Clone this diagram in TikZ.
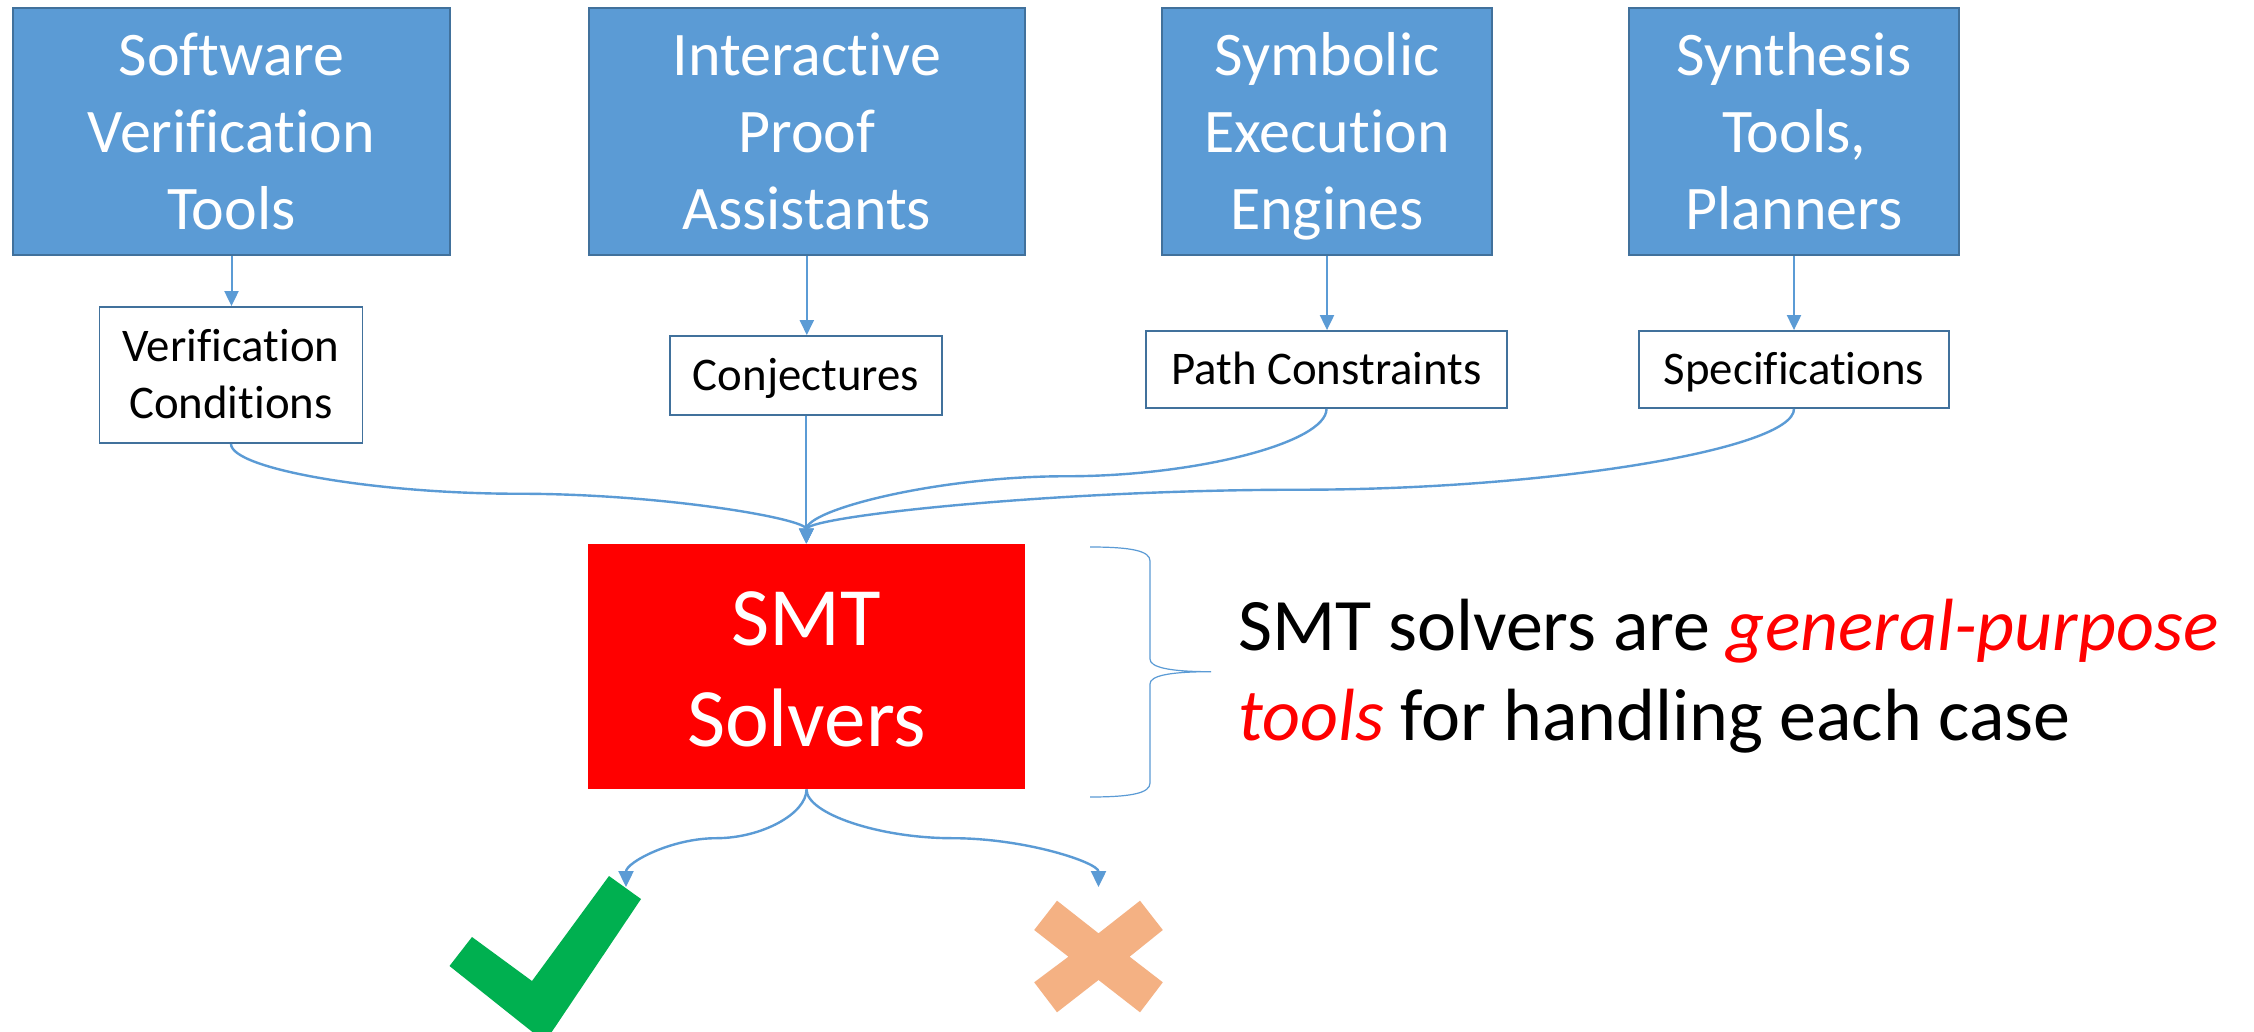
\documentclass[tikz,border=0pt]{standalone}
\usepackage{fontspec}
\setmainfont{Carlito}[Ligatures=NoCommon]
\usetikzlibrary{arrows.meta,calc}
\definecolor{boxblue}{HTML}{5B9BD5}
\definecolor{boxedge}{HTML}{41719C}
\definecolor{connblue}{HTML}{5B9BD5}
\definecolor{smtred}{HTML}{FF0000}
\definecolor{okgreen}{HTML}{00B050}
\definecolor{nopeach}{HTML}{F4B183}
\newcommand\tstrut[1]{\rule{0pt}{#1}}
\newcommand\bstrut[1]{\rule[-#1]{0pt}{#1}}
\tikzset{
  toolbox/.style={rectangle, fill=boxblue, draw=boxedge, line width=0.9pt, text=white,
    align=center, inner sep=0pt, minimum height=123.5pt,
    font=\fontsize{31}{38.5}\selectfont},
  outbox/.style={rectangle, fill=white, draw=boxedge, line width=0.9pt, text=black,
    align=center, inner sep=0pt, font=\fontsize{23.4}{28.3}\selectfont},
  smtbox/.style={rectangle, fill=smtred, draw=none, text=white, align=center, inner sep=0pt,
    minimum width=218.5pt, minimum height=122.5pt, font=\fontsize{41.5}{50.8}\selectfont},
  sidetext/.style={anchor=base west, inner sep=0pt, font=\fontsize{37}{44.5}\selectfont},
  conn/.style={draw=connblue, line width=1pt, -{Triangle[length=7.5pt,width=7pt]}},
  curveconn/.style={conn, line width=1.2pt},
  bracestyle/.style={draw=connblue, line width=0.6pt},
}
% PowerPoint-like curved connector (vertical start, vertical end, horizontal at mid)
\newcommand\pptcurve[4][]{%
  \draw[curveconn,#1] let \p1=(#2), \p2=(#3), \n1={\y1+#4*(\y2-\y1)} in
    (\p1) .. controls (\x1,{0.5*(\y1+\n1*1pt)}) and ({\x1+0.25*(\x2-\x1)},{\n1*1pt})
    .. ({0.5*(\x1+\x2)},{\n1*1pt})
    .. controls ({\x1+0.75*(\x2-\x1)},{\n1*1pt}) and (\x2,{0.5*(\n1*1pt+\y2)}) .. (\p2);
}
\begin{document}
\begin{tikzpicture}[x=0.5pt,y=-0.5pt]
\useasboundingbox (0,0) rectangle (2254,1032);
\fill[white] (0,0) rectangle (2254,1032);

% top tool boxes
\node[toolbox, minimum width=218.5pt] (t1) at (231.5,131.5)
  {\tstrut{29.25pt}Software\\Verification\\Tools\bstrut{7.75pt}};
\node[toolbox, minimum width=218pt] (t2) at (806.8,131.5)
  {\tstrut{29.25pt}Interactive\\Proof\\Assistants\bstrut{7.75pt}};
\node[toolbox, minimum width=165pt] (t3) at (1327,131.5)
  {\tstrut{29.25pt}Symbolic\\Execution\\Engines\bstrut{7.75pt}};
\node[toolbox, minimum width=165pt] (t4) at (1794,131.5)
  {\tstrut{29.25pt}Synthesis\\Tools,\\Planners\bstrut{7.75pt}};

% output boxes
\node[outbox, minimum width=131.5pt, minimum height=68pt] (s1) at (231,375)
  {\tstrut{21pt}Verification\\Conditions\bstrut{6pt}};
\node[outbox, minimum width=136pt, minimum height=39.5pt] (s2) at (806,375.5)
  {\tstrut{20.5pt}Conjectures\bstrut{6pt}};
\node[outbox, minimum width=180.5pt, minimum height=38.5pt] (s3) at (1326.5,369.5)
  {\tstrut{20.5pt}Path Constraints\bstrut{6pt}};
\node[outbox, minimum width=155pt, minimum height=38.5pt] (s4) at (1794,369.5)
  {\tstrut{20.5pt}Specifications\bstrut{6pt}};

% SMT box
\node[smtbox] (smt) at (806.5,666.5) {\tstrut{39.8pt}SMT\\Solvers\bstrut{10.5pt}};

% side text
\node[sidetext] (txa) at (1238,650.7)
  {SMT solvers are {\color{smtred}\itshape general-purpose}};
\node[sidetext] (txb) at (1238,740)
  {{\color{smtred}\itshape tools} for handling each case};

% brace
\draw[bracestyle] (1090,547) .. controls (1132,547) and (1150,551) .. (1150,561)
  -- (1150,659) .. controls (1150,667) and (1168,671.7) .. (1211,671.7)
  .. controls (1168,671.7) and (1150,676) .. (1150,684)
  -- (1150,783) .. controls (1150,793) and (1132,797) .. (1090,797);

% arrows tool -> output
\draw[conn] (t1.south) -- (t1.south |- s1.north);
\draw[conn] (t2.south) -- (t2.south |- s2.north);
\draw[conn] (t3.south) -- (t3.south |- s3.north);
\draw[conn] (t4.south) -- (t4.south |- s4.north);

% output -> SMT
\pptcurve{s1.south}{smt.north}{0.5}
\draw[conn] (s2.south) -- (s2.south |- smt.north);
\pptcurve{s3.south}{smt.north}{0.5}
\pptcurve{s4.south}{smt.north}{0.6}

% results
\coordinate (okend) at (626,887);
\coordinate (noend) at (1098.5,887);
\pptcurve[-{Triangle[length=8pt,width=7.5pt]}]{smt.south}{okend}{0.5}
\pptcurve[-{Triangle[length=8pt,width=7.5pt]}]{smt.south}{noend}{0.5}

% check mark
\fill[okgreen] (609,876) -- (641,899) -- (545,1042) -- (449.5,966) -- (472,937)
  -- (532,981) -- cycle;
% cross
\fill[nopeach] (1057,900.7) -- (1098.5,933.3) -- (1140,900.7) -- (1162.8,930)
  -- (1129.6,956.7) -- (1162.8,982.3) -- (1140,1012.3) -- (1098.5,980)
  -- (1057,1012.3) -- (1034.2,982.3) -- (1068.4,956.7) -- (1034.2,930) -- cycle;
\end{tikzpicture}
\end{document}
